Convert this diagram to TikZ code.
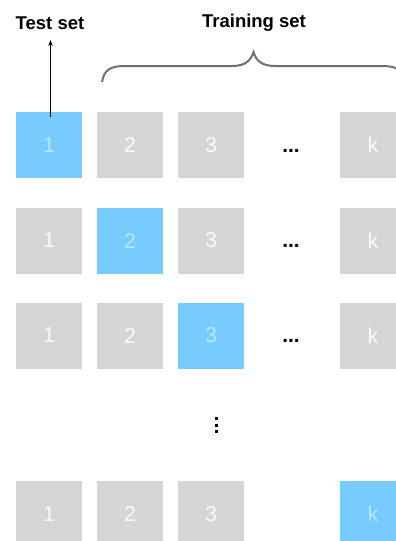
\documentclass[tikz,border=0pt]{standalone}
\usepackage{fontspec}
\setmainfont{Liberation Sans}
\usetikzlibrary{arrows.meta}
\definecolor{foldgray}{HTML}{D5D5D5}
\definecolor{foldblue}{HTML}{77CBFF}
\definecolor{bracegray}{HTML}{707070}
\tikzset{
  fold/.style={minimum size=66pt, inner sep=0pt, fill=foldgray, text=white, text opacity=0.88, font=\fontsize{21.5}{21.5}\selectfont},
  testfold/.style={fold, fill=foldblue, text opacity=0.5},
  hdots/.style={font=\bfseries\fontsize{21}{21}\selectfont, inner sep=0pt, anchor=base},
  title/.style={font=\bfseries\fontsize{18.5}{18.5}\selectfont, inner sep=0pt},
  vdot/.style={fill=black, minimum size=3pt, inner sep=0pt},
}
\begin{document}
\begin{tikzpicture}[x=1pt,y=-1pt]
\useasboundingbox (0,0) rectangle (396,541);
% titles
\node[title] (test) at (50,23) {Test set};
\node[title] (train) at (254,23) {Training set};
% row 1
\node[testfold] (a1) at (49,145) {1};
\node[fold] (a2) at (130,145) {2};
\node[fold] (a3) at (211,145) {3};
\node[hdots] (ad) at (291,152) {...};
\node[fold] (ak) at (373,145) {k};
% row 2
\node[fold] (b1) at (49,240.5) {1};
\node[testfold] (b2) at (130,240.5) {2};
\node[fold] (b3) at (211,240.5) {3};
\node[hdots] (bd) at (291,247.5) {...};
\node[fold] (bk) at (373,240.5) {k};
% row 3
\node[fold] (c1) at (49,335.5) {1};
\node[fold] (c2) at (130,335.5) {2};
\node[testfold] (c3) at (211,335.5) {3};
\node[hdots] (cd) at (291,342.5) {...};
\node[fold] (ck) at (373,335.5) {k};
% vertical dots
\node[vdot] (v1) at (216.7,418.5) {};
\node[vdot] (v2) at (216.7,425) {};
\node[vdot] (v3) at (216.7,431.5) {};
% last row
\node[fold] (d1) at (49,514) {1};
\node[fold] (d2) at (130,514) {2};
\node[fold] (d3) at (211,514) {3};
\node[testfold] (dk) at (373,514) {k};
% arrow
\coordinate (arrtop) at (50.5,40);
\draw[-{Stealth[length=6pt,width=4.5pt]}, line width=1pt] ([yshift=-5pt]a1.north -| arrtop) -- (arrtop);
% brace
\draw[bracegray, line width=2pt]
  (102,82) .. controls (104,70) and (110,66) .. (125,66)
  -- (232,66) .. controls (246,66) and (251,60) .. (253.5,52)
  .. controls (256,60) and (261,66) .. (275,66)
  -- (382,66) .. controls (397,66) and (403,70) .. (405,82);
\end{tikzpicture}
\end{document}
